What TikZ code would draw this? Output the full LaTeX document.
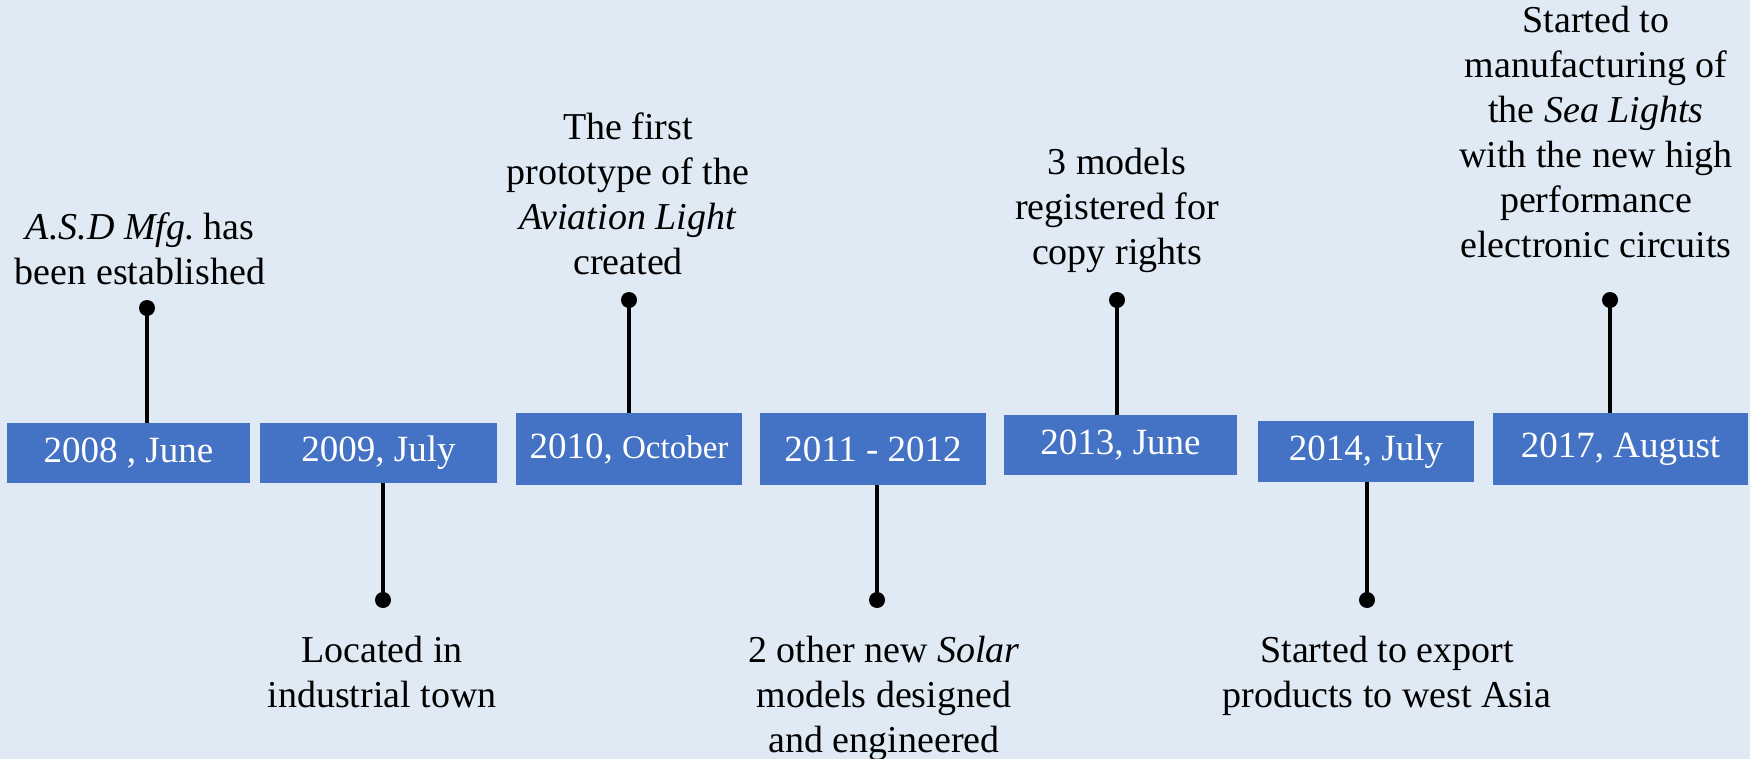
\documentclass[tikz,border=0pt]{standalone}
\usepackage{fontspec}
\setmainfont{Liberation Serif}
\definecolor{bgblue}{RGB}{223,234,245}
\definecolor{boxblue}{RGB}{68,114,196}
\begin{document}
\begin{tikzpicture}[x=0.5pt,y=-0.5pt,
  datebox/.style={fill=boxblue, text=white, inner sep=0pt, font=\fontsize{18.5pt}{22pt}\selectfont},
  evtext/.style={anchor=north, inner sep=0pt, align=center, text=black, font=\fontsize{19pt}{22.5pt}\selectfont},
  stemline/.style={line width=2.25pt, draw=black},
  dotnode/.style={circle, fill=black, inner sep=0pt, minimum size=8pt}
]
\useasboundingbox (0,0) rectangle (1750,759);
\fill[bgblue] (0,0) rectangle (1750,759);

% date boxes
\node[datebox, minimum width=121.5pt, minimum height=30pt] (b1) at (128.5,453) {\raisebox{-1pt}{2008 , June}};
\node[datebox, minimum width=118.5pt, minimum height=30pt] (b2) at (378.5,453) {\raisebox{-1pt}{2009, July}};
\node[datebox, minimum width=113pt, minimum height=36pt] (b3) at (629,449) {\raisebox{-1pt}{2010, {\fontsize{16.5pt}{18pt}\selectfont October}}};
\node[datebox, minimum width=113pt, minimum height=36pt] (b4) at (873,449) {\raisebox{-1pt}{2011 - 2012}};
\node[datebox, minimum width=116.5pt, minimum height=30pt] (b5) at (1120.5,445) {2013, June};
\node[datebox, minimum width=108pt, minimum height=30.5pt] (b6) at (1366,451.5) {\raisebox{-1pt}{2014, July}};
\node[datebox, minimum width=127.5pt, minimum height=36pt] (b7) at (1620.5,449) {\raisebox{-1pt}{2017, August}};

% dots
\node[dotnode] (d1) at (147,308) {};
\node[dotnode] (d2) at (383,600) {};
\node[dotnode] (d3) at (629,300) {};
\node[dotnode] (d4) at (877,600) {};
\node[dotnode] (d5) at (1117,300) {};
\node[dotnode] (d6) at (1367,600) {};
\node[dotnode] (d7) at (1610,300) {};

% stems
\draw[stemline] (d1.center) -- (d1.center |- b1.north);
\draw[stemline] (d2.center) -- (d2.center |- b2.south);
\draw[stemline] (d3.center) -- (d3.center |- b3.north);
\draw[stemline] (d4.center) -- (d4.center |- b4.south);
\draw[stemline] (d5.center) -- (d5.center |- b5.north);
\draw[stemline] (d6.center) -- (d6.center |- b6.south);
\draw[stemline] (d7.center) -- (d7.center |- b7.north);

% event texts
\node[evtext] (t1) at (140,212) {\textit{A.S.D Mfg.}\hspace{-2pt} has\\been established};
\node[evtext] (t2) at (382,636) {Located in\\industrial town};
\node[evtext] (t3) at (628,112) {The first\\prototype of the\\\textit{Aviation Light}\\created};
\node[evtext] (t4) at (884,636) {2 other new \textit{Solar}\\models designed\\and engineered};
\node[evtext] (t5) at (1117,148) {3 models\\registered for\\copy rights};
\node[evtext] (t6) at (1387,636) {Started to export\\products to west Asia};
\node[evtext] (t7) at (1596,6) {Started to\\manufacturing of\\the \textit{Sea Lights}\\with the new high\\performance\\electronic circuits};
\end{tikzpicture}
\end{document}
